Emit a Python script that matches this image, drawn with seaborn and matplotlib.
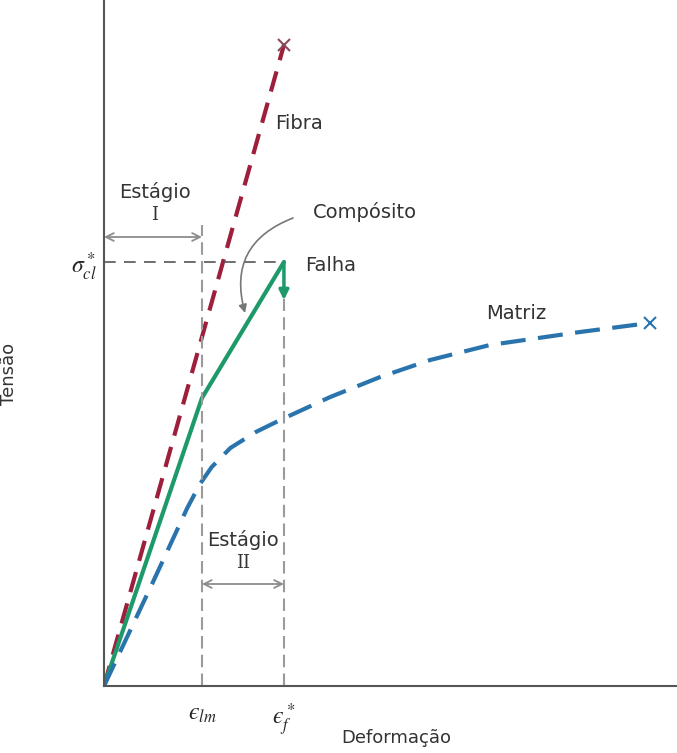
import numpy as np
import pandas as pd
import matplotlib
matplotlib.use("Agg")
import matplotlib.pyplot as plt
import seaborn as sns

# Curve data (strain units where eps_lm = 1, stress in arbitrary units)
fiber_x = [0.0, 1.837]
fiber_y = [0.0, 6.41]

comp_x = [0.0, 1.0, 1.837]
comp_y = [0.0, 2.88, 4.24]

matrix_x = [0.0, 0.5, 0.85, 0.98, 1.1, 1.29, 1.55, 1.80, 2.31, 2.82, 3.33, 3.94, 4.86, 5.57]
matrix_y = [0.0, 1.04, 1.78, 2.02, 2.19, 2.38, 2.54, 2.66, 2.89, 3.09, 3.26, 3.41, 3.54, 3.63]

eps_lm = 1.0
eps_f = 1.837
sigma_cl = 4.24
comp_fail_drop = 3.86

tick_labels_x = [r"$ϵ_{lm}$", r"$ϵ_f^*$"]
tick_label_y = r"$\sigma_{cl}^*$"

sns.set_style("white")
plt.rcParams['font.family'] = ['DejaVu Sans']
plt.rcParams['mathtext.fontset'] = 'stix'

fig = plt.figure(figsize=(6.77, 7.53), dpi=100)
ax = fig.add_axes([104 / 677, 67 / 753, 573 / 677, 686 / 753])

fiber_color = "#9e1f3c"
comp_color = "#1e9a6a"
matrix_color = "#2a74ad"
guide_color = "#9a9a9a"

df_fiber = pd.DataFrame({"x": fiber_x, "y": fiber_y})
df_comp = pd.DataFrame({"x": comp_x, "y": comp_y})
df_matrix = pd.DataFrame({"x": matrix_x, "y": matrix_y})

sns.lineplot(data=df_fiber, x="x", y="y", ax=ax, color=fiber_color, lw=3,
             linestyle=(0, (5, 2.8)), sort=False)
sns.lineplot(data=df_comp, x="x", y="y", ax=ax, color=comp_color, lw=3, sort=False)
sns.lineplot(data=df_matrix, x="x", y="y", ax=ax, color=matrix_color, lw=3,
             linestyle=(0, (6, 3)), sort=False)

# end markers (failure)
ax.plot(fiber_x[-1], fiber_y[-1], marker="x", color="#8a4a5a", ms=9, mew=1.5)
ax.plot(matrix_x[-1], matrix_y[-1], marker="x", color=matrix_color, ms=9, mew=1.5)

# composite failure drop
ax.annotate("", xy=(eps_f, comp_fail_drop), xytext=(eps_f, sigma_cl),
            arrowprops=dict(arrowstyle="-|>", color=comp_color, lw=2.5,
                            mutation_scale=14, shrinkA=0, shrinkB=0))

# guide lines
ax.plot([0, eps_f], [sigma_cl, sigma_cl], color="#555555", lw=1.2, linestyle=(0, (7, 5)))
ax.plot([eps_lm, eps_lm], [0, 4.61], color=guide_color, lw=1.5, linestyle=(0, (6, 3)))
ax.plot([eps_f, eps_f], [0, sigma_cl], color=guide_color, lw=1.5, linestyle=(0, (6, 3)))

# stage arrows
ax.annotate("", xy=(0, 4.49), xytext=(eps_lm, 4.49),
            arrowprops=dict(arrowstyle="<->", color="#8c8c8c", lw=1.3,
                            shrinkA=0, shrinkB=0, mutation_scale=14))
ax.annotate("", xy=(eps_lm, 1.02), xytext=(eps_f, 1.02),
            arrowprops=dict(arrowstyle="<->", color="#8c8c8c", lw=1.3,
                            shrinkA=0, shrinkB=0, mutation_scale=14))

txt = dict(fontsize=14, color="#333333")
ax.text(0.52, 4.94, "Estágio", ha="center", va="center", **txt)
ax.text(0.52, 4.71, "I", ha="center", va="center", fontsize=13, family="DejaVu Serif", color="#333333")
ax.text(1.42, 1.46, "Estágio", ha="center", va="center", **txt)
ax.text(1.42, 1.23, "II", ha="center", va="center", fontsize=13, family="DejaVu Serif", color="#333333")

ax.text(1.75, 5.63, "Fibra", ha="left", va="center", **txt)
ax.text(2.05, 4.21, "Falha", ha="left", va="center", **txt)
ax.text(4.21, 3.73, "Matriz", ha="center", va="center", **txt)
ax.text(2.66, 4.74, "Compósito", ha="center", va="center", **txt)
ax.annotate("", xy=(1.44, 3.73), xytext=(1.93, 4.68),
            arrowprops=dict(arrowstyle="-|>", color="#777777", lw=1.2,
                            connectionstyle="arc3,rad=0.45",
                            shrinkA=0, shrinkB=0, mutation_scale=12))

ax.set_xlim(0, 5.85)
ax.set_ylim(0, 6.86)
ax.set_xticks([eps_lm, eps_f])
ax.set_xticklabels(tick_labels_x, fontsize=17)
ax.set_yticks([sigma_cl])
ax.set_yticklabels([tick_label_y], fontsize=17)
ax.tick_params(axis="both", length=0)
ax.tick_params(axis="x", pad=11)
ax.tick_params(axis="y", pad=5)

for side in ["top", "right"]:
    ax.spines[side].set_visible(False)
for side in ["left", "bottom"]:
    ax.spines[side].set_color("#555555")
    ax.spines[side].set_linewidth(1.5)

ax.set_xlabel("Deformação", fontsize=13, color="#333333")
ax.xaxis.set_label_coords(0.51, -0.063)
ax.set_ylabel("Tensão", fontsize=13, color="#333333")
ax.yaxis.set_label_coords(-0.15, 0.455)

fig.savefig("out.png", dpi=100)
